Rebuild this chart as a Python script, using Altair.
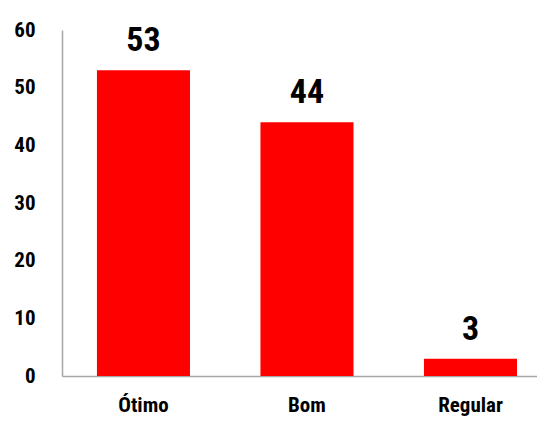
import altair as alt
import pandas as pd

categories = ["Ótimo", "Bom", "Regular"]
values = [53, 44, 3]

df = pd.DataFrame({"cat": categories, "val": values})
FONT = "Roboto Condensed, Open Sans Condensed, DejaVu Sans Condensed, sans-serif"

base = alt.Chart(df).encode(
    x=alt.X("cat:N", sort=categories, title=None,
            scale=alt.Scale(paddingInner=0.431, paddingOuter=0.168, align=0.636),
            axis=alt.Axis(labelAngle=0, ticks=False, labelPadding=18,
                          labelFont=FONT, labelFontSize=21, labelFontWeight="bold",
                          labelColor="#000000", domainColor="#a6a6a6", domainWidth=1.5)),
    y=alt.Y("val:Q", title=None,
            scale=alt.Scale(domain=[0, 60], nice=False),
            axis=alt.Axis(values=[0, 10, 20, 30, 40, 50, 60], ticks=False, grid=False,
                          labelPadding=27, labelFont=FONT, labelFontSize=21,
                          labelFontWeight="bold", labelColor="#000000",
                          domainColor="#a6a6a6", domainWidth=1.5)),
)

bars = base.mark_bar(color="#ff0000")
text = base.mark_text(baseline="alphabetic", dy=-19, font=FONT, fontSize=34,
                      fontWeight="bold", color="#000000").encode(text="val:Q")

chart = (bars + text).properties(
    width=475, height=346,
    autosize=alt.AutoSizeParams(type="none"),
    padding={"left": 54, "top": 22, "right": 0, "bottom": 40},
).configure_view(stroke=None)

chart.save("out.html", embed_options={"renderer": "svg", "actions": False})
